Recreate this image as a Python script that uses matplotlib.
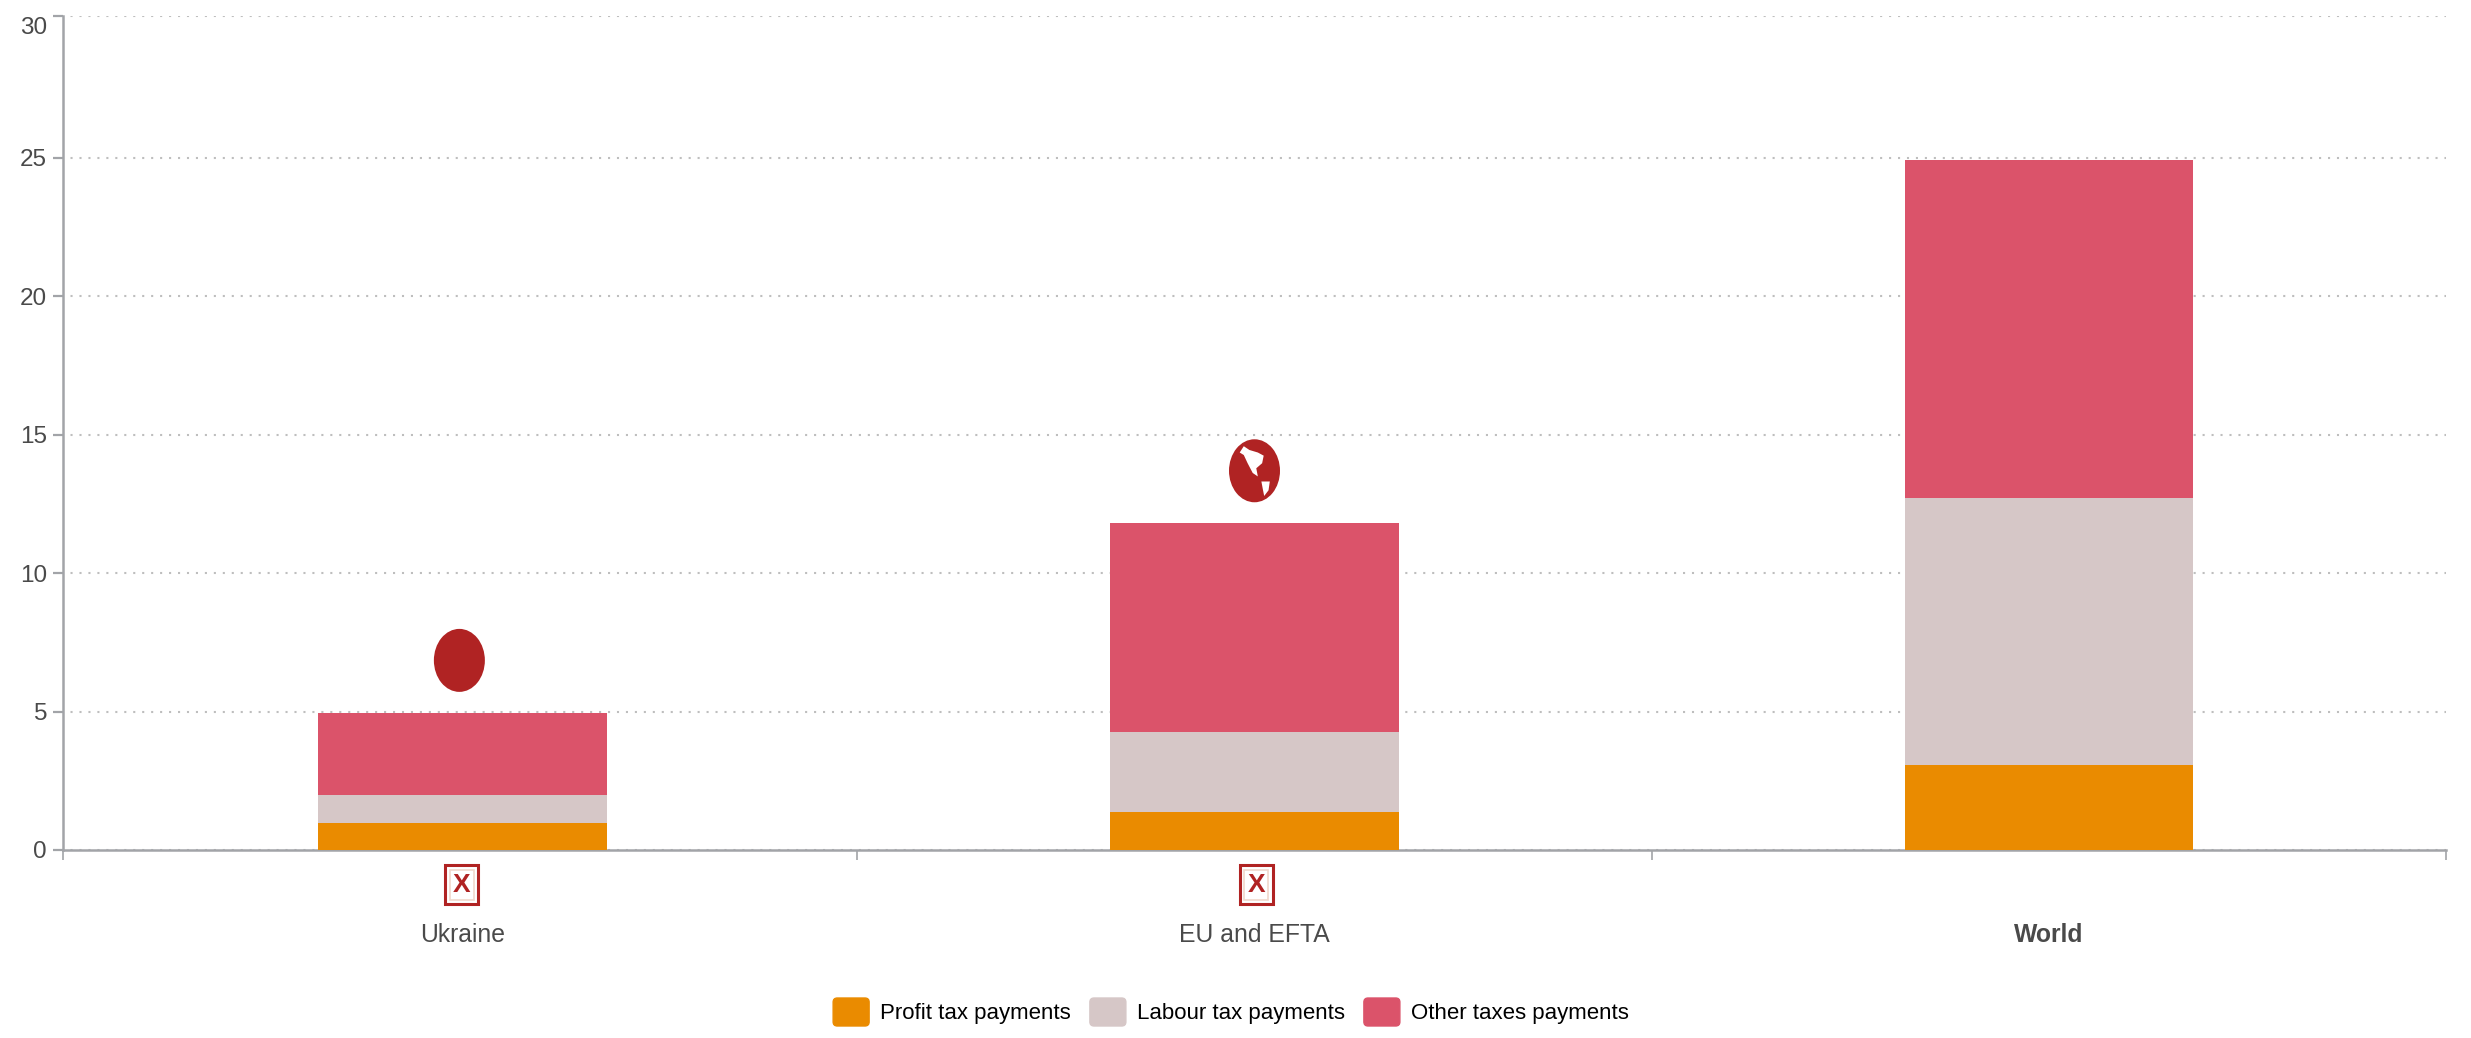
#!/usr/bin/env python3
"""Stacked tax payments by region, with small icons above and below the bars."""
import matplotlib
matplotlib.use("Agg")
import matplotlib.pyplot as plt
from matplotlib.legend_handler import HandlerPatch
from matplotlib.patches import Ellipse, FancyBboxPatch, Patch, Polygon, Rectangle
from matplotlib.transforms import ScaledTranslation

REGIONS = ["Ukraine", "EU and EFTA", "World"]
PROFIT = [0.97, 1.36, 3.07]
LABOUR = [1.02, 2.90, 9.66]
OTHER = [2.95, 7.54, 12.21]
SERIES_NAMES = ["Profit tax payments", "Labour tax payments", "Other taxes payments"]
Y_TICK_LABELS = ["0", "5", "10", "15", "20", "25", "30"]

ORANGE = "#EA8B00"
GREY_PINK = "#D6C7C7"
ROSE = "#DB536A"
ICON_RED = "#B02323"
AXIS = "#A2A4A8"
TEXT = "#4A4A4A"

W, H = 2471, 1038
PX_X = 794.3   # pixels per category
PX_Y = 27.68   # pixels per unit
plt.rcParams["font.family"] = ["Liberation Sans", "DejaVu Sans"]

# globe continents, as fractions of the icon's half width / half height
NORTH_AMERICA = [(-0.58, -0.58), (-0.42, -0.78), (-0.20, -0.66), (0.13, -0.58), (0.36, -0.48),
                 (0.30, -0.24), (0.07, -0.08), (0.13, 0.18), (-0.07, 0.07), (-0.27, -0.24),
                 (-0.42, -0.50)]
SOUTH_AMERICA = [(0.27, 0.34), (0.60, 0.34), (0.55, 0.62), (0.38, 0.80), (0.33, 0.60)]


def rounded(legend, orig_handle, xdescent, ydescent, width, height, fontsize):
    return FancyBboxPatch((-xdescent, -ydescent), width, height,
                          boxstyle="round,pad=0,rounding_size=3")


def main():
    fig = plt.figure(figsize=(W / 100, H / 100), dpi=100, facecolor="white")
    ax = fig.add_axes([63 / W, (H - 850) / H, (2446 - 63) / W, (850 - 15.7) / H])

    x = [0.003, 1, 2]
    bottom2 = [a + b for a, b in zip(PROFIT, LABOUR)]
    width = 0.363
    ax.bar(x, PROFIT, width, color=ORANGE, zorder=3)
    ax.bar(x, LABOUR, width, bottom=PROFIT, color=GREY_PINK, zorder=3)
    ax.bar(x, OTHER, width, bottom=bottom2, color=ROSE, zorder=3)

    ax.set_xlim(-0.5, 2.5)
    ax.set_ylim(0, 30.14)

    # top tick sits a little above the regular spacing in the source picture
    yticks = [0, 5, 10, 15, 20, 25, 30.14]
    ax.set_yticks(yticks, Y_TICK_LABELS)
    ax.set_xticks([-0.5, 0.5, 1.5, 2.5], ["", "", "", ""])
    ax.tick_params(axis="y", length=7.5, width=1.6, color=AXIS, labelcolor=TEXT,
                   labelsize=17.5, pad=4)
    ax.tick_params(axis="x", length=7.5, width=1.2, color=AXIS)
    ax.grid(axis="y", color="#BEBEBE", lw=1.5, ls=(5, (1, 3.3)), zorder=0)
    ax.set_axisbelow(True)
    for side in ("top", "right"):
        ax.spines[side].set_visible(False)
    for side in ("left", "bottom"):
        ax.spines[side].set_color(AXIS)
        ax.spines[side].set_linewidth(1.8)

    # "30" label hangs below its tick
    lab = ax.get_yticklabels()[-1]
    lab.set_transform(lab.get_transform() + ScaledTranslation(0, -7 / 72, fig.dpi_scale_trans))

    lab_t = ax.get_xaxis_transform()
    for xi, name in zip(x, REGIONS):
        ax.text(xi, -85.5 / 834.3, name, transform=lab_t, ha="center", va="center",
                fontsize=17.8, color=TEXT, weight="bold" if name == "World" else "normal")

    # icons, sized in data units
    ew, eh = 51 / PX_X, 63 / PX_Y
    ax.add_patch(Ellipse((-0.001, 6.85), ew, eh, color=ICON_RED, zorder=4, lw=0))
    gx, gy = 1.0, 13.7
    ax.add_patch(Ellipse((gx, gy), ew, eh, color=ICON_RED, zorder=4, lw=0))
    for shape in (NORTH_AMERICA, SOUTH_AMERICA):
        pts = [(gx + fx * ew / 2, gy - fy * eh / 2) for fx, fy in shape]
        ax.add_patch(Polygon(pts, color="white", zorder=5, lw=0))

    bw, bh = 33 / PX_X, 39 / PX_Y
    for xc in (0.002, 1.002):
        ax.add_patch(Rectangle((xc - bw / 2, -1.26 - bh / 2), bw, bh, fc="white",
                               ec=ICON_RED, lw=2.2, clip_on=False, zorder=4))
        ax.add_patch(Rectangle((xc - bw * 0.36, -1.26 - bh * 0.38), bw * 0.72, bh * 0.76,
                               fc="white", ec="#F0D8CC", lw=1.2, clip_on=False, zorder=4))
        ax.text(xc, -1.26, "X", ha="center", va="center", fontsize=19, weight="bold",
                color=ICON_RED, clip_on=False, zorder=5)

    handles = [Patch(color=c, label=n) for c, n in zip((ORANGE, GREY_PINK, ROSE), SERIES_NAMES)]
    fig.legend(handles=handles, loc="center", bbox_to_anchor=(1231 / W, (H - 1012) / H),
               ncol=3, frameon=False, fontsize=16, labelcolor="black",
               handlelength=1.62, handleheight=1.56, handletextpad=0.5, columnspacing=0.85,
               borderpad=0, handler_map={Patch: HandlerPatch(patch_func=rounded)})

    fig.savefig("out.png", dpi=100, facecolor="white")


if __name__ == "__main__":
    main()
